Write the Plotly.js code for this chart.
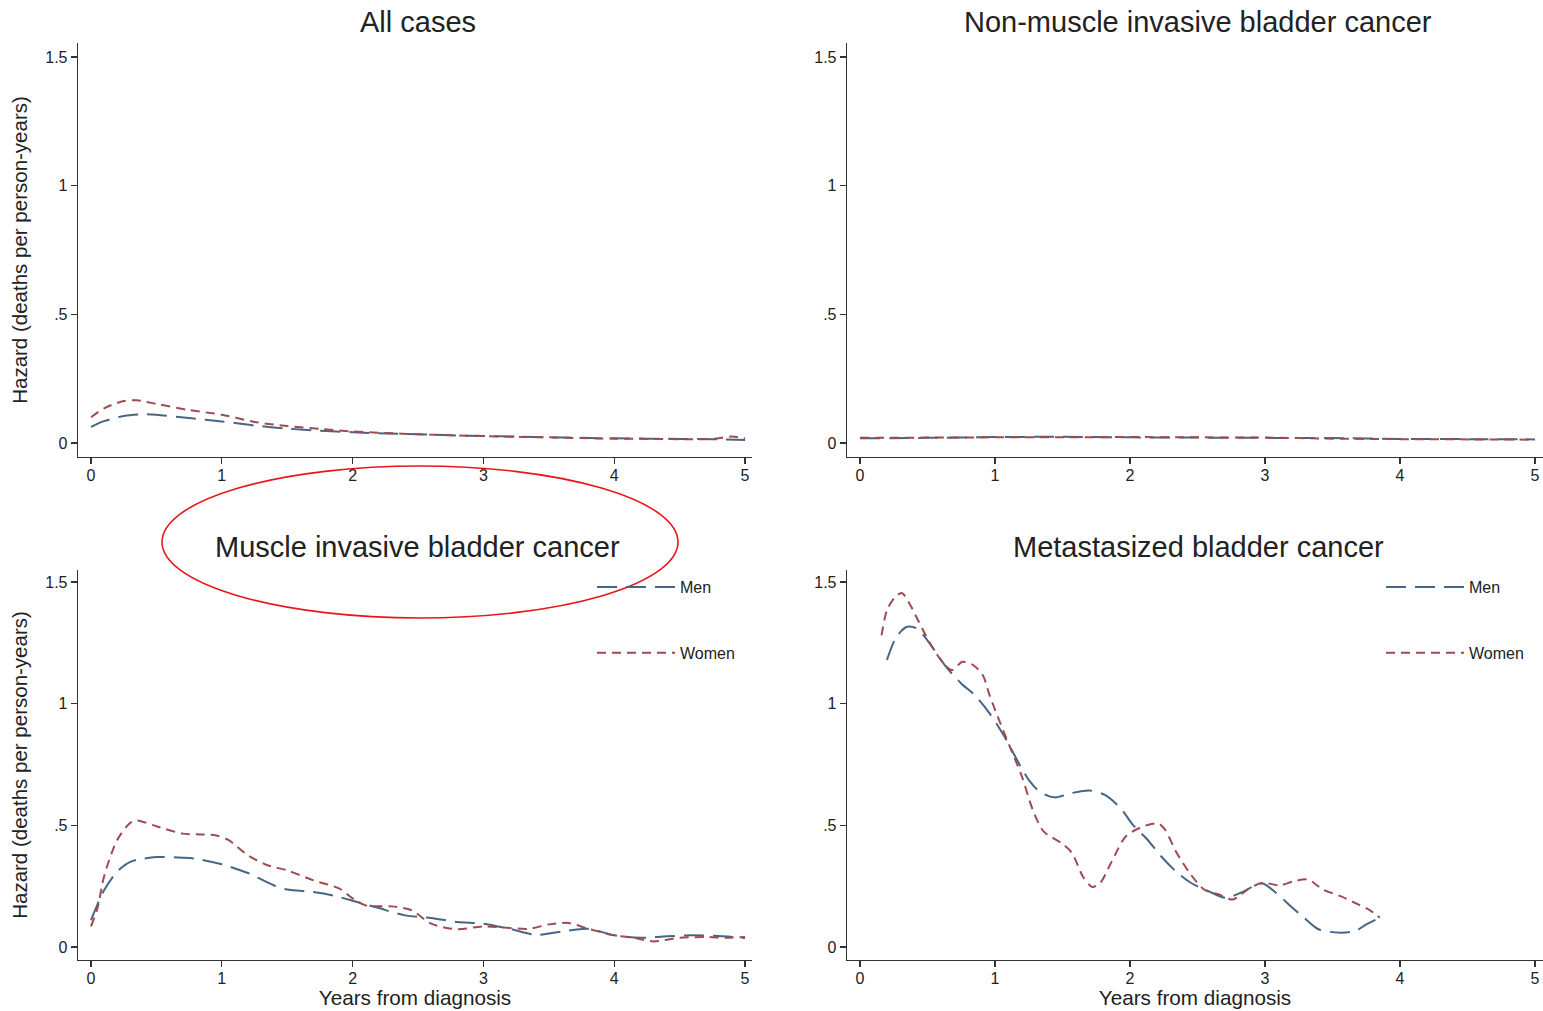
<!DOCTYPE html>
<html>
<head>
<meta charset="utf-8">
<script src="https://cdn.plot.ly/plotly-3.0.1.min.js"></script>
<style>html,body{margin:0;padding:0;background:#fff;}#chart{width:1543px;height:1011px;}</style>
</head>
<body>
<div id="chart"></div>
<script>
// ---------- DATA ----------
const panelTitles = ["All cases", "Non-muscle invasive bladder cancer", "Muscle invasive bladder cancer", "Metastasized bladder cancer"];
const seriesNames = ["Men", "Women"];
const yTickVals = [0, 0.5, 1, 1.5];
const yTickText = ["0", ".5", "1", "1.5"];
const xTickVals = [0, 1, 2, 3, 4, 5];

// All cases
const allMenX   = [0, 0.1, 0.25, 0.4, 0.5, 0.75, 1, 1.25, 1.5, 1.75, 2, 2.25, 2.5, 2.75, 3, 3.25, 3.5, 3.75, 4, 4.25, 4.5, 4.75, 5];
const allMenY   = [0.063, 0.085, 0.105, 0.112, 0.110, 0.097, 0.084, 0.068, 0.056, 0.048, 0.042, 0.037, 0.034, 0.030, 0.027, 0.025, 0.022, 0.020, 0.018, 0.017, 0.016, 0.015, 0.012];
const allWomenX = [0, 0.1, 0.25, 0.35, 0.5, 0.75, 1, 1.25, 1.5, 1.75, 2, 2.25, 2.5, 2.75, 3, 3.25, 3.5, 3.75, 4, 4.25, 4.5, 4.75, 4.9, 5];
const allWomenY = [0.100, 0.135, 0.163, 0.166, 0.152, 0.128, 0.110, 0.082, 0.066, 0.055, 0.045, 0.039, 0.034, 0.030, 0.027, 0.024, 0.022, 0.019, 0.017, 0.016, 0.015, 0.016, 0.025, 0.018];

// Non-muscle invasive
const nmiX      = [0, 0.5, 1, 1.5, 2, 2.5, 3, 3.5, 4, 4.5, 5];
const nmiMenY   = [0.018, 0.020, 0.023, 0.024, 0.022, 0.021, 0.020, 0.019, 0.016, 0.015, 0.014];
const nmiWomenY = [0.020, 0.021, 0.022, 0.022, 0.023, 0.022, 0.021, 0.017, 0.015, 0.014, 0.013];

// Muscle invasive
const miMenX   = [0, 0.1, 0.2, 0.3, 0.4, 0.5, 0.7, 0.8, 1, 1.2, 1.4, 1.5, 1.7, 1.85, 2, 2.2, 2.4, 2.6, 2.8, 3, 3.2, 3.4, 3.6, 3.8, 4, 4.2, 4.4, 4.6, 4.8, 5];
const miMenY   = [0.11, 0.233, 0.31, 0.35, 0.363, 0.37, 0.367, 0.363, 0.34, 0.304, 0.253, 0.236, 0.226, 0.212, 0.19, 0.16, 0.13, 0.119, 0.103, 0.096, 0.075, 0.05, 0.064, 0.075, 0.048, 0.038, 0.044, 0.048, 0.045, 0.037];
const miWomenX = [0, 0.05, 0.1, 0.2, 0.3, 0.35, 0.5, 0.7, 0.8, 0.95, 1.05, 1.2, 1.35, 1.5, 1.7, 1.9, 2, 2.1, 2.3, 2.45, 2.6, 2.8, 3, 3.2, 3.35, 3.5, 3.65, 3.8, 4, 4.15, 4.3, 4.5, 4.7, 4.85, 5];
const miWomenY = [0.085, 0.16, 0.29, 0.44, 0.51, 0.52, 0.496, 0.466, 0.463, 0.459, 0.44, 0.377, 0.336, 0.315, 0.274, 0.24, 0.2, 0.171, 0.167, 0.151, 0.096, 0.073, 0.085, 0.078, 0.075, 0.093, 0.099, 0.075, 0.048, 0.038, 0.023, 0.038, 0.041, 0.038, 0.041];

// Metastasized
const metMenX   = [0.2, 0.27, 0.35, 0.42, 0.48, 0.56, 0.64, 0.75, 0.85, 0.96, 1.07, 1.17, 1.25, 1.33, 1.44, 1.57, 1.7, 1.81, 1.93, 2.02, 2.13, 2.23, 2.34, 2.45, 2.58, 2.71, 2.82, 2.98, 3.08, 3.19, 3.29, 3.4, 3.56, 3.67, 3.75, 3.85];
const metMenY   = [1.18, 1.275, 1.316, 1.31, 1.275, 1.213, 1.15, 1.083, 1.035, 0.96, 0.865, 0.762, 0.687, 0.639, 0.615, 0.633, 0.643, 0.626, 0.571, 0.503, 0.441, 0.373, 0.311, 0.264, 0.23, 0.202, 0.223, 0.261, 0.223, 0.168, 0.12, 0.072, 0.059, 0.066, 0.093, 0.12];
const metWomenX = [0.16, 0.2, 0.26, 0.31, 0.36, 0.43, 0.52, 0.62, 0.68, 0.76, 0.84, 0.91, 0.96, 1.04, 1.12, 1.2, 1.28, 1.36, 1.49, 1.57, 1.65, 1.72, 1.78, 1.86, 1.97, 2.1, 2.21, 2.26, 2.34, 2.45, 2.55, 2.66, 2.76, 2.87, 2.98, 3.11, 3.21, 3.32, 3.43, 3.56, 3.69, 3.77, 3.85];
const metWomenY = [1.281, 1.384, 1.438, 1.455, 1.418, 1.343, 1.247, 1.165, 1.138, 1.172, 1.158, 1.117, 1.035, 0.919, 0.81, 0.70, 0.564, 0.475, 0.428, 0.387, 0.291, 0.247, 0.264, 0.346, 0.455, 0.496, 0.507, 0.482, 0.393, 0.298, 0.236, 0.216, 0.195, 0.236, 0.264, 0.253, 0.27, 0.277, 0.236, 0.209, 0.175, 0.154, 0.12];

// ---------- STYLE ----------
const FONT = "Liberation Sans, Arial, Helvetica, sans-serif";
const menStyle   = {color: "#476684", width: 2, dash: "20px,9px", shape: "spline", smoothing: 0.8};
const womenStyle = {color: "#a04a52", width: 2, dash: "9px,6px", shape: "spline", smoothing: 0.8};

function tr(x, y, name, style, xa, ya, legend, show, grp) {
  return {x: x, y: y, name: name, type: "scatter", mode: "lines", line: style,
          xaxis: xa, yaxis: ya, legend: legend, showlegend: show, legendgroup: grp,
          hoverinfo: "skip"};
}

const traces = [
  tr(allMenX, allMenY, seriesNames[0], menStyle, "x", "y", "legend", false, "a1"),
  tr(allWomenX, allWomenY, seriesNames[1], womenStyle, "x", "y", "legend", false, "a2"),
  tr(nmiX, nmiMenY, seriesNames[0], menStyle, "x2", "y2", "legend", false, "b1"),
  tr(nmiX, nmiWomenY, seriesNames[1], womenStyle, "x2", "y2", "legend", false, "b2"),
  tr(miMenX, miMenY, seriesNames[0], menStyle, "x3", "y3", "legend", true, "c1"),
  tr(miWomenX, miWomenY, seriesNames[1], womenStyle, "x3", "y3", "legend", true, "c2"),
  tr(metMenX, metMenY, seriesNames[0], menStyle, "x4", "y4", "legend2", true, "d1"),
  tr(metWomenX, metWomenY, seriesNames[1], womenStyle, "x4", "y4", "legend2", true, "d2")
];

const W = 1543, H = 1011;
const px = v => v / W, py = v => 1 - v / H;

function xaxis(dom, range, title, anchor) {
  return {domain: dom, range: range, anchor: anchor, showline: true, linecolor: "#333", linewidth: 1.3,
          ticks: "outside", ticklen: 6, tickcolor: "#333", tickwidth: 1.3, tickvals: xTickVals,
          ticklabelstandoff: -3,
          showgrid: false, zeroline: false, tickfont: {family: FONT, size: 16, color: "#222"},
          title: {text: title, font: {family: FONT, size: 20.7, color: "#222"}, standoff: 3}, fixedrange: true};
}
function yaxis(dom, range, title, anchor) {
  return {domain: dom, range: range, anchor: anchor, showline: true, linecolor: "#333", linewidth: 1.3,
          ticks: "outside", ticklen: 6, tickcolor: "#333", tickwidth: 1.3, tickvals: yTickVals, ticktext: yTickText,
          showgrid: false, zeroline: false, tickfont: {family: FONT, size: 16, color: "#222"},
          title: {text: title, font: {family: FONT, size: 20.5, color: "#222"}, standoff: 12}, fixedrange: true};
}

const xL = [px(78), px(752)], xR = [px(847), 1];
const yT = [py(457), py(43)], yB = [py(960), py(570)];
const rxL = [-0.0994, 5.053], rxR = [-0.096, 5.059];
const ryT = [-0.0544, 1.5546], ryB = [-0.0534, 1.5495];
const ytitle = "Hazard (deaths per person-years)";
const xtitle = "Years from diagnosis";

const titleFont = {family: FONT, size: 29, color: "#222"};
function ann(text, x, y) {
  return {text: text, x: x, y: y, xref: "paper", yref: "paper", xanchor: "center", yanchor: "middle",
          showarrow: false, font: titleFont};
}

const legendCommon = {xanchor: "left", yanchor: "top", bgcolor: "rgba(0,0,0,0)", borderwidth: 0,
  font: {family: FONT, size: 16, color: "#222"}, itemwidth: 78, tracegroupgap: 42, traceorder: "grouped"};

const layout = {
  width: W, height: H, margin: {l: 0, r: 0, t: 0, b: 0},
  paper_bgcolor: "#fff", plot_bgcolor: "#fff",
  font: {family: FONT, color: "#222"},
  xaxis: xaxis(xL, rxL, "", "y"),
  yaxis: yaxis(yT, ryT, ytitle, "x"),
  xaxis2: xaxis(xR, rxR, "", "y2"),
  yaxis2: yaxis(yT, ryT, "", "x2"),
  xaxis3: xaxis(xL, rxL, xtitle, "y3"),
  yaxis3: yaxis(yB, ryB, ytitle, "x3"),
  xaxis4: xaxis(xR, rxR, xtitle, "y4"),
  yaxis4: yaxis(yB, ryB, "", "x4"),
  legend: Object.assign({x: px(592), y: py(570)}, legendCommon),
  legend2: Object.assign({x: px(1381), y: py(570)}, legendCommon),
  annotations: [
    ann(panelTitles[0], px(418), py(22)),
    ann(panelTitles[1], px(1198), py(22)),
    ann(panelTitles[2], px(418), py(547)),
    ann(panelTitles[3], px(1198), py(547))
  ],
  shapes: [
    {type: "circle", xref: "paper", yref: "paper", x0: px(162), x1: px(678), y0: py(618), y1: py(466),
     line: {color: "#e8161b", width: 1.6}, fillcolor: "rgba(0,0,0,0)"}
  ]
};

Plotly.newPlot("chart", traces, layout, {staticPlot: true, displayModeBar: false});
</script>
</body>
</html>
